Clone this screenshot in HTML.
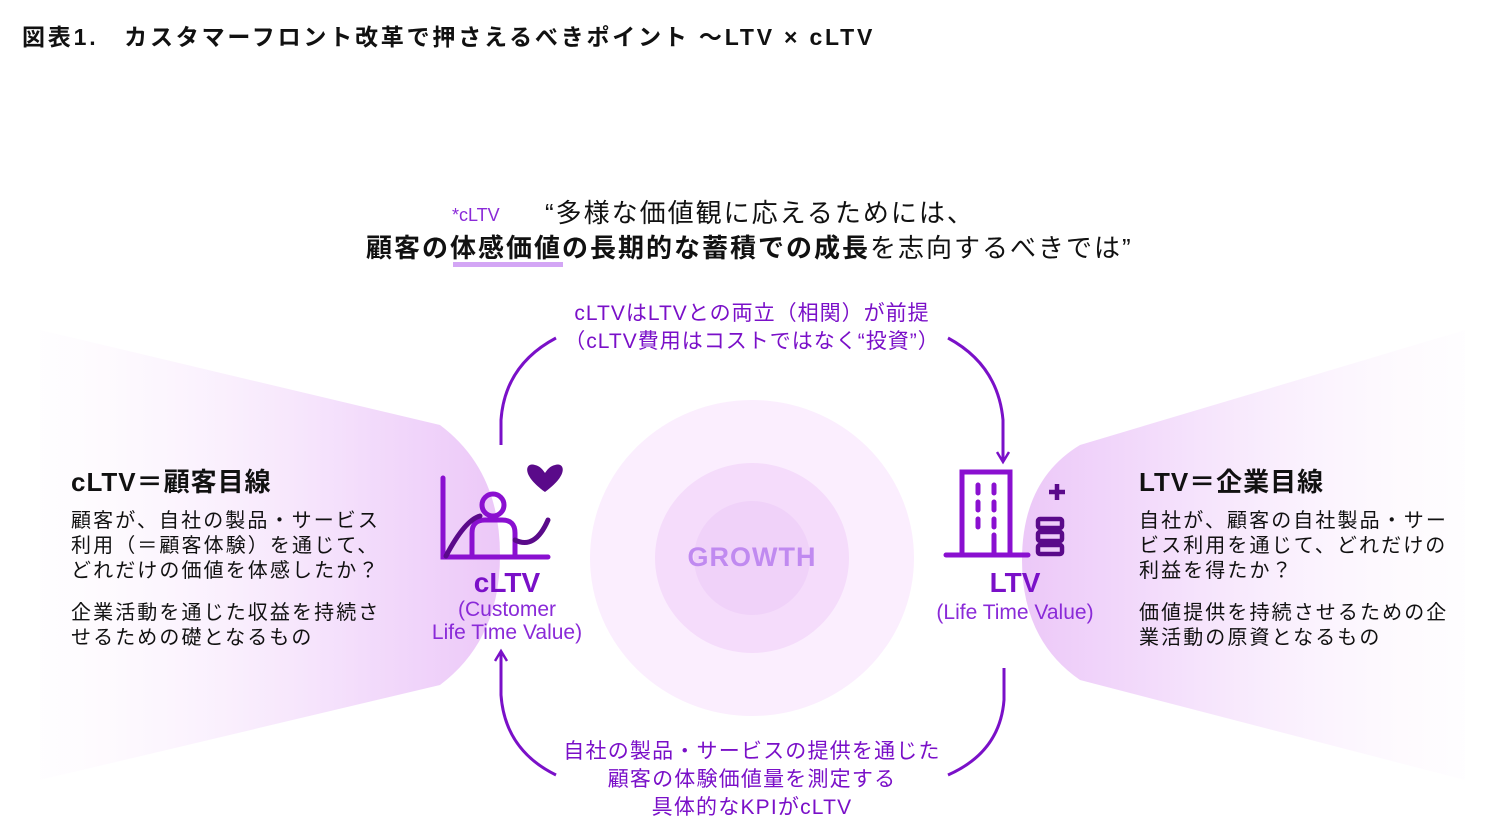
<!DOCTYPE html>
<html><head><meta charset="utf-8"><style>
body{margin:0;width:1501px;height:832px;background:#fff;position:relative;overflow:hidden;font-family:"Liberation Sans","Noto Sans CJK JP",sans-serif;color:#111}
.a{position:absolute;white-space:nowrap}
.p{color:#7a10c8}
.c{text-align:center}
</style></head><body>
<svg width="1501" height="832" style="position:absolute;left:0;top:0">
<defs>
<linearGradient id="gl" x1="0" x2="1"><stop offset="0" stop-color="#fdf7fe" stop-opacity="0.2"/><stop offset="0.7" stop-color="#f3dcfb"/><stop offset="1" stop-color="#ecc8f8"/></linearGradient>
<linearGradient id="gr" x1="1" x2="0"><stop offset="0" stop-color="#fdf7fe" stop-opacity="0.2"/><stop offset="0.7" stop-color="#f3dcfb"/><stop offset="1" stop-color="#ecc8f8"/></linearGradient>
<marker id="ah" markerWidth="14" markerHeight="14" refX="11" refY="7" orient="auto" markerUnits="userSpaceOnUse"><path d="M1,1 L11,7 L1,13" fill="none" stroke="#7a10c8" stroke-width="2.5"/></marker>
</defs>
<path d="M40,330 L440,425 Q500,470 500,555 Q500,640 440,685 L40,780 Z" fill="url(#gl)"/>
<path d="M1465,330 L1080,445 Q1022,480 1022,560 Q1022,640 1080,680 L1465,780 Z" fill="url(#gr)"/>
<ellipse cx="752" cy="558" rx="162" ry="158" fill="#fbeefe"/>
<ellipse cx="752" cy="558" rx="97" ry="95" fill="#f5dcfb"/>
<ellipse cx="752" cy="558" rx="58" ry="57" fill="#f0d2f9"/>
<g fill="none" stroke="#7a10c8" stroke-width="3">
<path d="M501,445 L501,420 Q505,365 556,338"/>
<path d="M948,338 Q998,365 1003,420 L1003,462" marker-end="url(#ah)"/>
<path d="M556,775 Q505,750 501,695 L501,651" marker-end="url(#ah)"/>
<path d="M1004,668 L1004,700 Q1000,752 948,775"/>
</g>
<g fill="none" stroke="#8a10d0" stroke-width="5" stroke-linecap="round">
<path d="M443,478 L443,557 L548,557"/>
<circle cx="493" cy="505" r="11"/>
<path d="M472,556 L472,533 Q472,520 485,520 L502,520 Q515,520 515,533 L515,556"/>
<path d="M515,540 Q535,550 548,520" stroke="#5a0a8a"/>
<path d="M446,556 Q465,520 480,516" stroke="#5a0a8a"/>
</g>
<path d="M545,492 C520,474 526,462 535,465 C540,466 543,470 545,473 C547,470 550,466 555,465 C564,462 570,474 545,492 Z" fill="#5a0a8a"/>
<g fill="none" stroke="#8a10d0" stroke-width="5" stroke-linecap="round">
<path d="M962,555 L962,472 L1010,472 L1010,555"/>
<path d="M946,555 L1028,555"/>
<path d="M978,485v8M994,485v8M978,502v8M994,502v8M978,519v8M994,519v8M994,535v18"/>
</g>
<g fill="none" stroke="#5a0a8a" stroke-width="4.5">
<rect x="1038" y="519" width="24" height="9" rx="2"/><rect x="1038" y="532" width="24" height="9" rx="2"/><rect x="1038" y="545" width="24" height="9" rx="2"/>
<path d="M1057,484v16M1049,492h16"/>
</g>
</svg>
<div class="a" style="left:22px;top:18px;font-size:23px;font-weight:bold;letter-spacing:2.8px">図表1.　カスタマーフロント改革で押さえるべきポイント ～LTV × cLTV</div>
<div class="a p" style="left:452px;top:205px;font-size:18px;color:#8a2ad8">*cLTV</div>
<div class="a" style="left:545px;top:193px;font-size:26px;letter-spacing:2px">“多様な価値観に応えるためには、</div>
<div style="position:absolute;left:453px;top:262px;width:110px;height:5px;background:#d3a6f5"></div>
<div class="a" style="left:366px;top:228px;font-size:26px;letter-spacing:2px"><b>顧客の体感価値の長期的な蓄積での成長</b>を志向するべきでは”</div>
<div class="a p c" style="left:532px;top:300px;width:440px;font-size:21px;line-height:28px;letter-spacing:1px">cLTVはLTVとの両立（相関）が前提<br>（cLTV費用はコストではなく“投資”）</div>
<div class="a p c" style="left:532px;top:738px;width:440px;font-size:21px;line-height:28px;letter-spacing:1.2px">自社の製品・サービスの提供を通じた<br>顧客の体験価値量を測定する<br>具体的なKPIがcLTV</div>
<div class="a" style="left:71px;top:462px;font-size:26px;font-weight:bold;letter-spacing:1px">cLTV＝顧客目線</div>
<div class="a" style="left:71px;top:509px;font-size:20px;line-height:25px;letter-spacing:2.1px">顧客が、自社の製品・サービス<br>利用（＝顧客体験）を通じて、<br>どれだけの価値を体感したか？</div>
<div class="a" style="left:71px;top:601px;font-size:20px;line-height:25px;letter-spacing:2.1px">企業活動を通じた収益を持続さ<br>せるための礎となるもの</div>
<div class="a" style="left:1139px;top:462px;font-size:26px;font-weight:bold;letter-spacing:1px">LTV＝企業目線</div>
<div class="a" style="left:1139px;top:509px;font-size:20px;line-height:25px;letter-spacing:2.1px">自社が、顧客の自社製品・サー<br>ビス利用を通じて、どれだけの<br>利益を得たか？</div>
<div class="a" style="left:1139px;top:601px;font-size:20px;line-height:25px;letter-spacing:2.1px">価値提供を持続させるための企<br>業活動の原資となるもの</div>
<div class="a c" style="left:652px;top:542px;width:200px;font-size:27px;font-weight:bold;color:#c08af0;letter-spacing:1px">GROWTH</div>
<div class="a p c" style="left:407px;top:567px;width:200px;font-size:28px;font-weight:bold">cLTV</div>
<div class="a p c" style="left:407px;top:598px;width:200px;font-size:21px;line-height:23px;color:#8a2ad8">(Customer<br>Life Time Value)</div>
<div class="a p c" style="left:915px;top:567px;width:200px;font-size:28px;font-weight:bold">LTV</div>
<div class="a p c" style="left:915px;top:601px;width:200px;font-size:21px;color:#8a2ad8">(Life Time Value)</div>
</body></html>
